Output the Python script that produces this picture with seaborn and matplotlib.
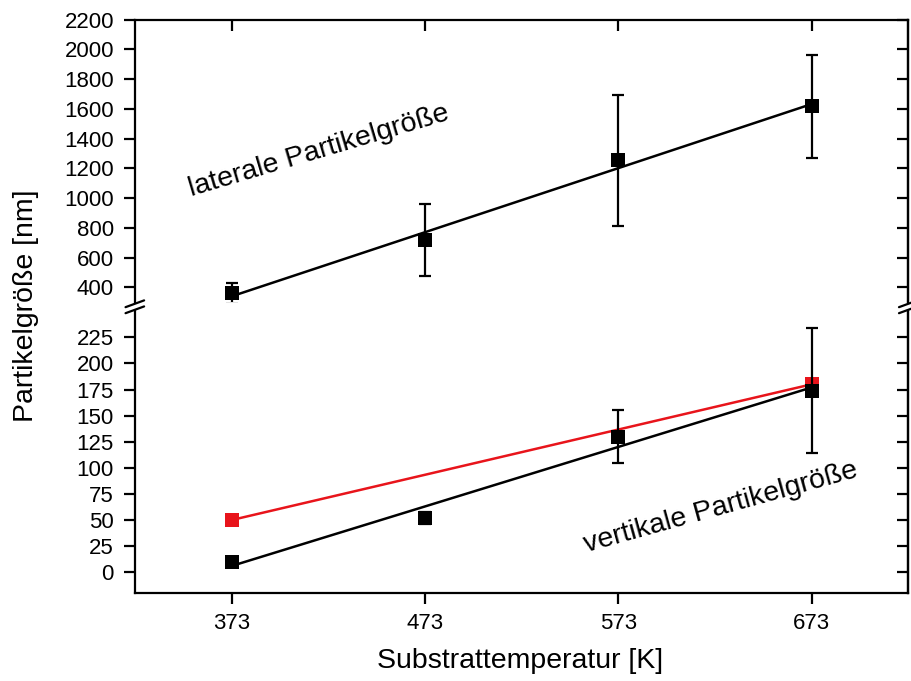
import numpy as np
import matplotlib.pyplot as plt
import seaborn as sns

# ── Data ─────────────────────────────────────────────────────────────────────
temps = np.array([373, 473, 573, 673])

lateral      = np.array([360, 716, 1254, 1617])
lateral_err  = np.array([70, 242, 440, 345])

vertical     = np.array([10, 52, 130, 174])
vertical_err = np.array([5, 6, 25, 60])

red_temps    = np.array([373, 673])
red_vals     = np.array([50, 180])

x_ticks      = [373, 473, 573, 673]
top_ticks    = list(range(400, 2201, 200))
bottom_ticks = list(range(0, 226, 25))

# ── Style ────────────────────────────────────────────────────────────────────
sns.set_style("ticks")
plt.rcParams.update({
    "font.family": ["Liberation Sans", "DejaVu Sans"],
    "text.color": "black",
    "axes.labelcolor": "black",
    "axes.linewidth": 1.6,
    "xtick.major.width": 1.6,
    "ytick.major.width": 1.6,
    "xtick.major.size": 8,
    "ytick.major.size": 8,
    "xtick.labelsize": 16,
    "ytick.labelsize": 16,
    "xtick.color": "black",
    "ytick.color": "black",
    "axes.edgecolor": "black",
})

fig = plt.figure(figsize=(9.11, 6.81), dpi=100)
L, W = 0.148, 0.849
ax_top = fig.add_axes([L, 0.556, W, 0.415])
ax_bot = fig.add_axes([L, 0.129, W, 0.414])

err_kw = dict(fmt="none", ecolor="black", elinewidth=1.6, capsize=4.5, capthick=1.6)
mk_kw = dict(marker="s", s=95, color="black", edgecolor="black", linewidth=0, zorder=4)

# top: lateral size
sns.regplot(x=temps, y=lateral, ci=None, scatter=False, ax=ax_top,
            line_kws={"color": "black", "linewidth": 1.8})
ax_top.errorbar(temps, lateral, yerr=lateral_err, **err_kw)
sns.scatterplot(x=temps, y=lateral, ax=ax_top, **mk_kw)

# bottom: vertical size
sns.regplot(x=temps, y=vertical, ci=None, scatter=False, ax=ax_bot,
            line_kws={"color": "black", "linewidth": 1.8})
sns.lineplot(x=red_temps, y=red_vals, ax=ax_bot, color="#e8141b", linewidth=1.8,
             marker="s", markersize=9.5, markeredgewidth=0)
ax_bot.errorbar(temps, vertical, yerr=vertical_err, **err_kw)
sns.scatterplot(x=temps, y=vertical, ax=ax_bot, **mk_kw)

# ── Axes ─────────────────────────────────────────────────────────────────────
for ax in (ax_top, ax_bot):
    ax.set_xlim(323, 723)
    ax.set_xticks(x_ticks)
    ax.set_xlabel("")
    ax.set_ylabel("")
    ax.tick_params(axis="y", direction="out", pad=7)

ax_top.set_ylim(300, 2200)
ax_top.set_yticks(top_ticks)
ax_top.spines["bottom"].set_visible(False)
ax_top.tick_params(axis="x", bottom=False, labelbottom=False, top=True,
                   labeltop=False, direction="in", length=8)

ax_bot.set_ylim(-20, 250)
ax_bot.set_yticks(bottom_ticks)
ax_bot.spines["top"].set_visible(False)
ax_bot.tick_params(axis="x", direction="out", pad=6, length=8)

# right-hand inward ticks
for ax, ticks in ((ax_top, top_ticks), (ax_bot, bottom_ticks)):
    twin = ax.twinx()
    twin.set_ylim(ax.get_ylim())
    twin.set_yticks(ticks)
    twin.tick_params(axis="y", direction="in", labelright=False, length=8)
    for s in ("top", "bottom", "left"):
        twin.spines[s].set_visible(False)

# break marks
d = 0.012
bk = dict(color="black", clip_on=False, linewidth=1.6)
for xa in (0, 1):
    ax_top.plot([xa - d, xa + d], [-0.017, 0.007], transform=ax_top.transAxes, **bk)
    ax_bot.plot([xa - d, xa + d], [0.993, 1.017], transform=ax_bot.transAxes, **bk)

# annotations
ax_top.text(418, 1320, "laterale Partikelgröße", rotation=16.5, fontsize=20.5,
            ha="center", va="center")
ax_bot.text(626, 62, "vertikale Partikelgröße", rotation=15.5, fontsize=20.5,
            ha="center", va="center")

fig.text(0.029, 0.551, "Partikelgröße [nm]", rotation=90, fontsize=20.5,
         ha="center", va="center")
fig.text(0.571, 0.029, "Substrattemperatur [K]", fontsize=20.5, ha="center", va="center")

fig.savefig("out.png", dpi=100)
